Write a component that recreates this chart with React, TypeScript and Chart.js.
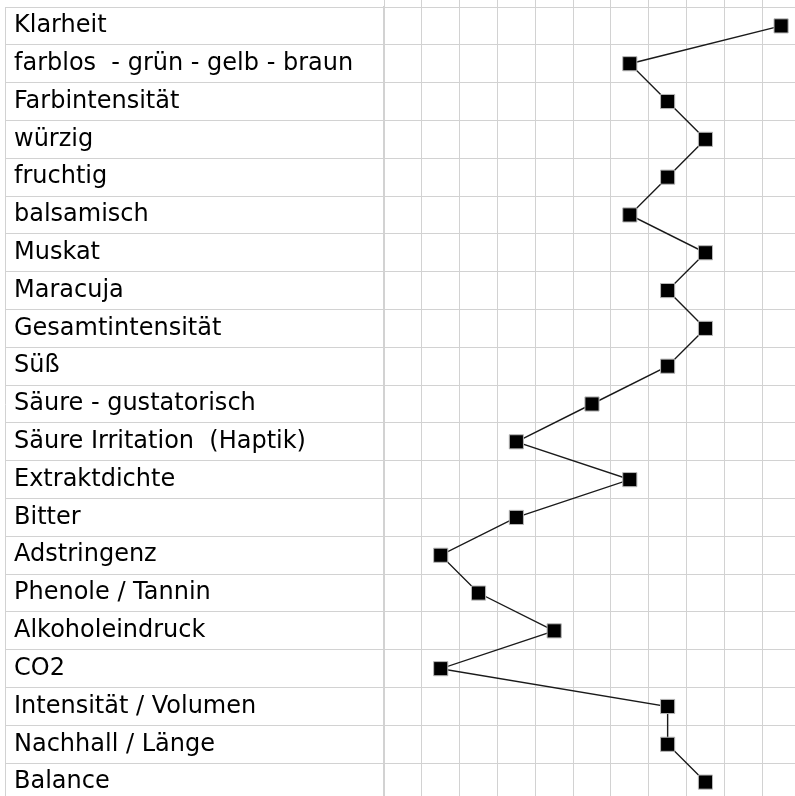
import React, { useEffect, useRef } from 'react';
import { Chart, registerables } from 'chart.js';

Chart.register(...registerables);

const categories: string[] = [
  'Klarheit',
  'farblos  - grün - gelb - braun',
  'Farbintensität',
  'würzig',
  'fruchtig',
  'balsamisch',
  'Muskat',
  'Maracuja',
  'Gesamtintensität',
  'Süß',
  'Säure - gustatorisch',
  'Säure Irritation  (Haptik)',
  'Extraktdichte',
  'Bitter',
  'Adstringenz',
  'Phenole / Tannin',
  'Alkoholeindruck',
  'CO2',
  'Intensität / Volumen',
  'Nachhall / Länge',
  'Balance',
];

const scores: number[] = [10, 6, 7, 8, 7, 6, 8, 7, 8, 7, 5, 3, 6, 3, 1, 2, 4, 1, 7, 7, 8];

// column boundaries of the scoring grid (each score sits in the middle of a cell)
const columnBounds: number[] = [-0.5, 0.5, 1.5, 2.5, 3.5, 4.5, 5.5, 6.5, 7.5, 8.5, 9.5, 10.5];

const GRID = '#d2d2d2';
const LABEL_AREA_TICK = 379;

const leftBorder = {
  id: 'leftBorder',
  afterDraw(chart: any) {
    const y = chart.scales.y;
    const ctx = chart.ctx;
    const x = Math.round(y.right - LABEL_AREA_TICK) + 0.5;
    ctx.save();
    ctx.strokeStyle = GRID;
    ctx.lineWidth = 1;
    ctx.beginPath();
    ctx.moveTo(x, chart.chartArea.top);
    ctx.lineTo(x, chart.chartArea.bottom + 1);
    ctx.stroke();
    ctx.restore();
  },
};

export default function App() {
  const ref = useRef<HTMLCanvasElement | null>(null);

  useEffect(() => {
    if (!ref.current) return;
    const chart = new Chart(ref.current, {
      type: 'line',
      data: {
        labels: categories,
        datasets: [
          {
            data: scores,
            borderColor: '#1a1a1a',
            borderWidth: 1.4,
            pointStyle: 'rect',
            pointRadius: 10,
            pointHoverRadius: 10,
            pointBackgroundColor: '#000',
            pointBorderColor: '#b8b8b8',
            pointBorderWidth: 1,
            tension: 0,
            fill: false,
            clip: false,
          },
        ],
      },
      plugins: [leftBorder],
      options: {
        indexAxis: 'y',
        animation: false,
        responsive: false,
        devicePixelRatio: 1,
        layout: { autoPadding: false, padding: { left: 14, right: 1, top: 0, bottom: 1 } },
        plugins: {
          legend: { display: false },
          tooltip: { enabled: false },
          title: { display: false },
        },
        scales: {
          x: {
            type: 'linear',
            position: 'top',
            min: columnBounds[0],
            max: columnBounds[columnBounds.length - 1],
            afterBuildTicks: (scale: any) => {
              scale.ticks = columnBounds.map((v) => ({ value: v }));
            },
            afterFit: (scale: any) => {
              scale.height = 7;
              scale.paddingLeft = 0;
              scale.paddingRight = 0;
            },
            ticks: { display: false },
            grid: {
              color: GRID,
              lineWidth: 1,
              drawTicks: true,
              tickLength: 7,
              tickColor: GRID,
            },
            border: { display: false },
          },
          y: {
            type: 'category',
            offset: true,
            afterFit: (scale: any) => {
              scale.width = 370;
              scale.paddingTop = 0;
              scale.paddingBottom = 0;
            },
            ticks: {
              autoSkip: false,
              crossAlign: 'far',
              color: '#000',
              font: { family: 'DejaVu Sans', size: 24 },
            },
            grid: {
              offset: true,
              color: GRID,
              lineWidth: 1,
              drawTicks: true,
              tickLength: LABEL_AREA_TICK,
              tickColor: GRID,
            },
            border: { display: true, color: GRID, width: 2 },
          },
        },
      },
    } as any);
    return () => chart.destroy();
  }, []);

  return (
    <div
      style={{
        position: 'fixed',
        left: 0,
        top: 0,
        width: 795,
        height: 796,
        overflow: 'hidden',
        background: '#fff',
      }}
    >
      <canvas ref={ref} width={801} height={802} style={{ display: 'block' }} />
    </div>
  );
}
